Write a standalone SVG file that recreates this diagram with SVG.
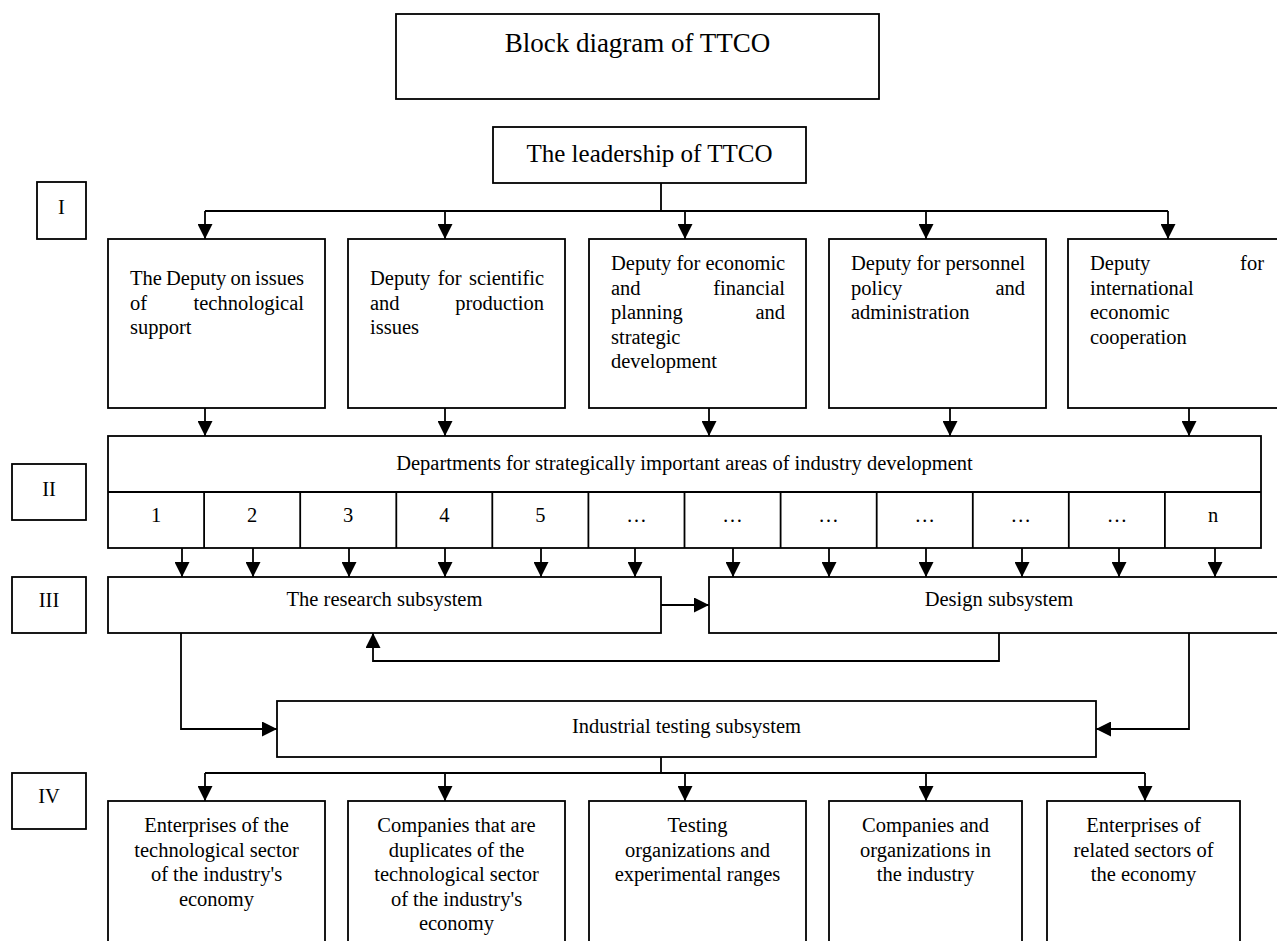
<svg xmlns="http://www.w3.org/2000/svg" width="1277" height="941" viewBox="0 0 1277 941">
<style>
.b{fill:#fff;stroke:#000;stroke-width:1.8}
.t{font-family:"Liberation Serif","Times New Roman",serif;font-size:20.5px;fill:#000}
.c{text-anchor:middle}
.e{text-anchor:end}
.k{fill:none;stroke:#000;stroke-width:1.8}
.a{fill:none;stroke:#000;stroke-width:1.8;marker-end:url(#ah)}
</style>
<defs>
<marker id="ah" markerWidth="15" markerHeight="15" refX="15" refY="7.5" orient="auto" markerUnits="userSpaceOnUse"><path d="M0,0 L15,7.5 L0,15 z" fill="#000"/></marker>
</defs>
<rect width="1277" height="941" fill="#fff"/>

<g id="title"><rect class="b" x="396" y="14" width="483" height="85"/><text class="t c" x="637.5" y="52" style="font-size:27px">Block diagram of TTCO</text></g>
<g id="leadership"><rect class="b" x="493" y="127" width="313" height="56"/><text class="t c" x="649.5" y="162" style="font-size:25px">The leadership of TTCO</text></g>

<g id="level-I"><rect class="b" x="37" y="182" width="49" height="57"/><text class="t c" x="61.5" y="214">I</text></g>
<g id="level-II"><rect class="b" x="12" y="464" width="74" height="56"/><text class="t c" x="49" y="496">II</text></g>
<g id="level-III"><rect class="b" x="12" y="577" width="74" height="56"/><text class="t c" x="49" y="607">III</text></g>
<g id="level-IV"><rect class="b" x="12" y="773" width="74" height="56"/><text class="t c" x="49" y="803">IV</text></g>

<g id="deputy1"><rect class="b" x="108" y="239" width="217" height="169"/>
<text class="t" x="130" y="285" word-spacing="-1">The Deputy on issues</text>
<text class="t" x="130" y="309.5">of</text><text class="t e" x="304" y="309.5">technological</text>
<text class="t" x="130" y="334">support</text></g>
<g id="deputy2"><rect class="b" x="348" y="239" width="217" height="169"/>
<text class="t" x="370" y="285" word-spacing="2.2">Deputy for scientific</text>
<text class="t" x="370" y="309.5">and</text><text class="t e" x="544" y="309.5">production</text>
<text class="t" x="370" y="334">issues</text></g>
<g id="deputy3"><rect class="b" x="589" y="239" width="217" height="169"/>
<text class="t" x="611" y="270">Deputy for economic</text>
<text class="t" x="611" y="294.5">and</text><text class="t e" x="785" y="294.5">financial</text>
<text class="t" x="611" y="319">planning</text><text class="t e" x="785" y="319">and</text>
<text class="t" x="611" y="343.5">strategic</text>
<text class="t" x="611" y="368">development</text></g>
<g id="deputy4"><rect class="b" x="829" y="239" width="217" height="169"/>
<text class="t" x="851" y="270">Deputy for personnel</text>
<text class="t" x="851" y="294.5">policy</text><text class="t e" x="1025" y="294.5">and</text>
<text class="t" x="851" y="319">administration</text></g>
<g id="deputy5"><rect class="b" x="1068" y="239" width="222" height="169"/>
<text class="t" x="1090" y="270">Deputy</text><text class="t e" x="1264" y="270">for</text>
<text class="t" x="1090" y="294.5">international</text>
<text class="t" x="1090" y="319">economic</text>
<text class="t" x="1090" y="343.5">cooperation</text></g>

<g id="departments"><rect class="b" x="108" y="436" width="1153" height="112"/>
<line class="k" x1="108" y1="492" x2="1261" y2="492"/>
<path class="k" d="M204.1,492V548M300.2,492V548M396.3,492V548M492.3,492V548M588.4,492V548M684.5,492V548M780.6,492V548M876.7,492V548M972.8,492V548M1068.8,492V548M1164.9,492V548"/>
<text class="t c" x="684.5" y="470">Departments for strategically important areas of industry development</text>
<text class="t c" x="156" y="522">1</text><text class="t c" x="252.1" y="522">2</text><text class="t c" x="348.2" y="522">3</text><text class="t c" x="444.3" y="522">4</text><text class="t c" x="540.4" y="522">5</text><text class="t c" x="636.5" y="522">…</text><text class="t c" x="732.5" y="522">…</text><text class="t c" x="828.6" y="522">…</text><text class="t c" x="924.7" y="522">…</text><text class="t c" x="1020.8" y="522">…</text><text class="t c" x="1116.9" y="522">…</text><text class="t c" x="1213" y="522">n</text></g>

<g id="research"><rect class="b" x="108" y="577" width="553" height="56"/><text class="t c" x="384.5" y="606">The research subsystem</text></g>
<g id="design"><rect class="b" x="709" y="577" width="590" height="56"/><text class="t c" x="999" y="606">Design subsystem</text></g>
<g id="industrial"><rect class="b" x="277" y="701" width="819" height="56"/><text class="t c" x="686.5" y="733">Industrial testing subsystem</text></g>

<g id="out1"><rect class="b" x="108" y="801" width="217" height="160"/>
<text class="t c" x="216.5" y="832">Enterprises of the</text><text class="t c" x="216.5" y="856.5">technological sector</text><text class="t c" x="216.5" y="881">of the industry's</text><text class="t c" x="216.5" y="905.5">economy</text></g>
<g id="out2"><rect class="b" x="348" y="801" width="217" height="160"/>
<text class="t c" x="456.5" y="832">Companies that are</text><text class="t c" x="456.5" y="856.5">duplicates of the</text><text class="t c" x="456.5" y="881">technological sector</text><text class="t c" x="456.5" y="905.5">of the industry's</text><text class="t c" x="456.5" y="930">economy</text></g>
<g id="out3"><rect class="b" x="589" y="801" width="217" height="160"/>
<text class="t c" x="697.5" y="832">Testing</text><text class="t c" x="697.5" y="856.5">organizations and</text><text class="t c" x="697.5" y="881">experimental ranges</text></g>
<g id="out4"><rect class="b" x="829" y="801" width="193" height="160"/>
<text class="t c" x="925.5" y="832">Companies and</text><text class="t c" x="925.5" y="856.5">organizations in</text><text class="t c" x="925.5" y="881">the industry</text></g>
<g id="out5"><rect class="b" x="1047" y="801" width="193" height="160"/>
<text class="t c" x="1143.5" y="832">Enterprises of</text><text class="t c" x="1143.5" y="856.5">related sectors of</text><text class="t c" x="1143.5" y="881">the economy</text></g>

<g id="connectors">
<path class="k" d="M661,183V211M205,211H1168"/>
<path class="a" d="M205,211V239"/><path class="a" d="M445,211V239"/><path class="a" d="M685,211V239"/><path class="a" d="M926,211V239"/><path class="a" d="M1168,211V239"/>
<path class="a" d="M205,408V436"/><path class="a" d="M445,408V436"/><path class="a" d="M709,408V436"/><path class="a" d="M950,408V436"/><path class="a" d="M1189,408V436"/>
<path class="a" d="M182,548V577"/><path class="a" d="M253,548V577"/><path class="a" d="M349,548V577"/><path class="a" d="M445,548V577"/><path class="a" d="M541,548V577"/><path class="a" d="M635,548V577"/><path class="a" d="M733,548V577"/><path class="a" d="M829,548V577"/><path class="a" d="M926,548V577"/><path class="a" d="M1022,548V577"/><path class="a" d="M1119,548V577"/><path class="a" d="M1215,548V577"/>
<path class="a" d="M661,605H709"/>
<path class="a" d="M999,633V661H373V633"/>
<path class="a" d="M181,633V729H277"/>
<path class="a" d="M1189,633V729H1096"/>
<path class="k" d="M661,757V773M205,773H1145"/>
<path class="a" d="M205,773V801"/><path class="a" d="M445,773V801"/><path class="a" d="M685,773V801"/><path class="a" d="M926,773V801"/><path class="a" d="M1145,773V801"/>
</g>
</svg>
